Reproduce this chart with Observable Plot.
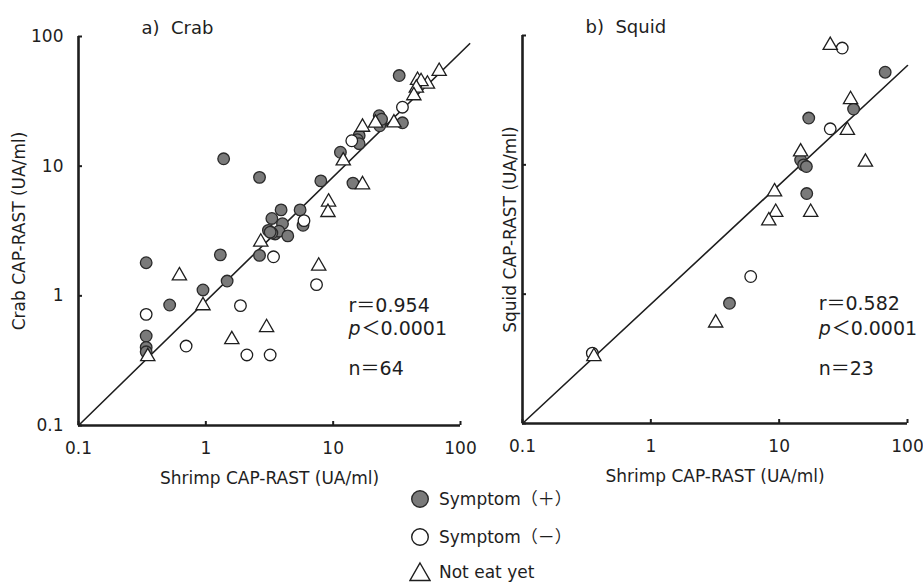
<!DOCTYPE html>
<html>
<head>
<meta charset="utf-8">
<script src="https://cdn.jsdelivr.net/npm/d3@7"></script>
<script src="https://cdn.jsdelivr.net/npm/@observablehq/plot@0.6"></script>
<style>
  body { margin: 0; background: #fff; }
  #fig { position: relative; width: 923px; height: 585px; font-family: "DejaVu Sans", "Noto Sans CJK JP", sans-serif; color: #1e1e1e; overflow: hidden; }
  #fig > svg { position: absolute; top: 0; }
  .legend { position: absolute; left: 409px; font-size: 17px; display: flex; align-items: center; gap: 8px; line-height: 1; }
  .legend svg { display: block; }
</style>
</head>
<body>
<div id="fig"></div>
<script>
// Shrimp CAP-RAST (x) versus crab / squid CAP-RAST (y), UA/ml
const decades = [0.1, 1, 10, 100];

// a) Crab, n = 64
const crabSymptomPos = [
  [1.38, 11.4], [2.64, 8.2], [33, 50], [35, 21.6], [23, 24.5], [23.7, 21.8], [23.2, 20.5], [24, 23],
  [16, 17.2], [15.5, 16], [16, 14.9], [11.4, 12.8], [8, 7.7], [14.3, 7.4], [3.9, 4.6], [5.5, 4.6],
  [5.8, 3.5], [3.3, 3.95], [4.0, 3.6], [3.1, 3.2], [3.5, 3.0], [3.75, 3.15], [3.3, 3.05], [3.2, 3.1],
  [4.4, 2.9], [2.64, 2.05], [1.3, 2.07], [0.34, 1.8], [1.47, 1.3], [0.95, 1.11], [0.52, 0.85],
  [0.34, 0.49], [0.34, 0.40], [0.34, 0.37]
];
const crabSymptomNeg = [
  [35, 28.5], [14, 15.7], [5.9, 3.8], [3.4, 2.0], [7.4, 1.22], [0.34, 0.72], [1.87, 0.84],
  [0.70, 0.41], [2.1, 0.35], [3.2, 0.35]
];
const crabNotEaten = [
  [68, 54], [46, 46], [55, 43], [49, 45], [45, 40], [43, 35], [30, 21.6], [21.5, 21.5], [17, 20],
  [12, 11], [17, 7.2], [9.2, 5.3], [9.1, 4.4], [2.7, 2.6], [0.62, 1.43], [7.7, 1.7], [0.95, 0.84],
  [0.35, 0.34], [1.6, 0.46], [3.0, 0.57]
];
const crabFit = [[0.1, 0.1], [118, 88]];
const crabStats = { r: "0.954", p: "0.0001", n: "64" };

// b) Squid, n = 23
const squidSymptomPos = [
  [67, 52], [38, 27], [17, 23], [14.7, 10.9], [15.5, 10.0], [16.3, 9.7], [16.4, 6.0], [4.1, 0.85]
];
const squidSymptomNeg = [[31, 80], [25, 19], [6.0, 1.37], [0.35, 0.35]];
const squidNotEaten = [
  [25, 84], [36, 32], [34, 18.5], [14.7, 12.6], [47, 10.5], [9.2, 6.2], [9.4, 4.3], [17.6, 4.3],
  [8.3, 3.7], [3.2, 0.60], [0.36, 0.33]
];
const squidFit = [[0.1, 0.1], [100, 58.6]];
const squidStats = { r: "0.582", p: "0.0001", n: "23" };

const xLabel = "Shrimp CAP-RAST (UA/ml)";
const groupLabels = ["Symptom（＋）", "Symptom（－）", "Not eat yet"];

const font = `"DejaVu Sans", "Noto Sans CJK JP", sans-serif`;
const ink = "#1e1e1e";
const grey = "#7a7a7a";

function panel({ title, yLabel, yTickLabels, pos, neg, notEaten, fit, stats, width, ml, mr, mt, mb, yLabelOffset, statX, statY }) {
  return Plot.plot({
    width, height: 490,
    marginLeft: ml, marginRight: mr, marginTop: mt, marginBottom: mb,
    style: { fontFamily: font, fontSize: "17px", color: ink, background: "transparent", overflow: "visible" },
    x: { type: "log", domain: [0.1, 100] },
    y: { type: "log", domain: [0.1, 100] },
    marks: [
      Plot.axisX({ ticks: decades, tickFormat: d => String(d), tickSize: -4, tickPadding: 20, strokeWidth: 2,
        label: xLabel, labelAnchor: "center", labelOffset: 58, labelArrow: "none" }),
      Plot.axisY({ ticks: decades, tickFormat: yTickLabels ? (d => String(d)) : (() => ""), tickSize: -4, tickPadding: 19, strokeWidth: 2,
        label: yLabel, labelAnchor: "center", labelOffset: yLabelOffset, labelArrow: "none" }),
      Plot.ruleX([0.1], { stroke: ink, strokeWidth: 2.6 }),
      Plot.ruleY([0.1], { stroke: ink, strokeWidth: 2.6 }),
      Plot.line(fit, { x: d => d[0], y: d => d[1], stroke: ink, strokeWidth: 1.6 }),
      Plot.dot(pos, { x: d => d[0], y: d => d[1], r: 5.8, fill: grey, stroke: "#2a2a2a", strokeWidth: 1.3 }),
      Plot.dot(neg, { x: d => d[0], y: d => d[1], r: 5.8, fill: "white", stroke: ink, strokeWidth: 1.3 }),
      Plot.dot(notEaten, { x: d => d[0], y: d => d[1], r: 5.3, symbol: "triangle", fill: "white", stroke: ink, strokeWidth: 1.3 }),
      Plot.text([title], { frameAnchor: "top-left", dx: 63, dy: -15, textAnchor: "start", fontSize: 18 }),
      Plot.text([`r＝${stats.r}`], { x: statX, y: statY[0], textAnchor: "start", fontSize: 19 }),
      Plot.text(["p"], { x: statX, y: statY[1], textAnchor: "start", fontSize: 19, fontStyle: "italic" }),
      Plot.text([`＜${stats.p}`], { x: statX, y: statY[1], dx: 13, textAnchor: "start", fontSize: 19 }),
      Plot.text([`n＝${stats.n}`], { x: statX, y: statY[2], textAnchor: "start", fontSize: 19 })
    ]
  });
}

const fig = document.getElementById("fig");

const crabPlot = panel({
  title: "a)  Crab", yLabel: "Crab CAP-RAST (UA/ml)", yTickLabels: true,
  pos: crabSymptomPos, neg: crabSymptomNeg, notEaten: crabNotEaten, fit: crabFit, stats: crabStats,
  width: 480, ml: 78, mr: 20, mt: 36, mb: 65, yLabelOffset: 66, statX: 13.2, statY: [0.84, 0.56, 0.275]
});
crabPlot.style.left = "0px";
fig.appendChild(crabPlot);

const squidPlot = panel({
  title: "b)  Squid", yLabel: "Squid CAP-RAST (UA/ml)", yTickLabels: false,
  pos: squidSymptomPos, neg: squidSymptomNeg, notEaten: squidNotEaten, fit: squidFit, stats: squidStats,
  width: 443, ml: 42, mr: 16, mt: 35, mb: 67, yLabelOffset: 19, statX: 20.3, statY: [0.847, 0.543, 0.266]
});
squidPlot.style.left = "480px";
fig.appendChild(squidPlot);

// Legend: one row per group
const legendSymbols = [
  `<circle cx="11" cy="11" r="8.3" fill="${grey}" stroke="#2a2a2a" stroke-width="1.4"/>`,
  `<circle cx="11" cy="11" r="8.3" fill="white" stroke="${ink}" stroke-width="1.4"/>`,
  `<path d="M11,2 L21,19.5 L1,19.5 Z" fill="white" stroke="${ink}" stroke-width="1.4"/>`
];
const legendTops = [488, 526, 561];
groupLabels.forEach((label, i) => {
  const row = document.createElement("div");
  row.className = "legend";
  row.style.top = legendTops[i] + "px";
  row.innerHTML = `<svg width="22" height="22">${legendSymbols[i]}</svg><span>${label}</span>`;
  fig.appendChild(row);
});
</script>
</body>
</html>
